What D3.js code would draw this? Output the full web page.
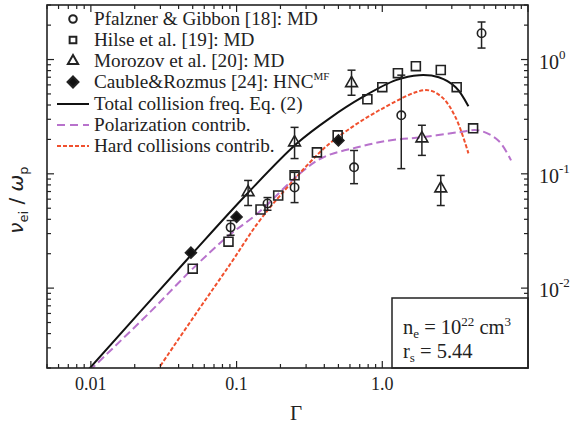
<!DOCTYPE html>
<html><head><meta charset="utf-8">
<script src="https://cdn.jsdelivr.net/npm/d3@7"></script>
<style>body{margin:0;background:#fff}svg{display:block}</style>
</head><body><svg id="c" width="580" height="432" font-family="Tinos, 'Liberation Serif', 'Times New Roman', Times, 'Nimbus Roman', 'Noto Serif', 'DejaVu Serif', serif"></svg>
<script>
// Data (Gamma, nu_ei/omega_p)
const pfalznerG = [0.091, 0.163, 0.25, 0.64, 1.35, 4.8];
const pfalznerV = [0.034, 0.055, 0.076, 0.114, 0.325, 1.7];
const pfalznerLo = [0.029, 0.048, 0.056, 0.082, 0.111, 1.26];
const pfalznerHi = [0.039, 0.062, 0.103, 0.160, 0.73, 2.13];

const hilseG = [0.05, 0.088, 0.146, 0.193, 0.25, 0.356, 0.494, 0.79, 1.0, 1.28, 1.70, 2.52, 3.24, 4.2];
const hilseV = [0.0148, 0.0255, 0.0487, 0.0646, 0.097, 0.154, 0.217, 0.449, 0.573, 0.76, 0.875, 0.81, 0.573, 0.25];

const morozovG = [0.12, 0.25, 0.615, 1.87, 2.52];
const morozovV = [0.069, 0.188, 0.62, 0.204, 0.0745];
const morozovLo = [0.0528, 0.136, 0.487, 0.145, 0.0528];
const morozovHi = [0.0875, 0.255, 0.807, 0.266, 0.0968];

const caubleG = [0.0486, 0.1, 0.5];
const caubleV = [0.0204, 0.042, 0.196];

const totalG = [0.0095, 0.0486, 0.119, 0.26, 0.435, 0.73, 1.24, 1.79, 2.44, 3.19, 3.9];
const totalV = [0.0019, 0.0194, 0.0676, 0.185, 0.306, 0.468, 0.66, 0.73, 0.70, 0.573, 0.39];

const polarG = [0.0098, 0.0248, 0.05, 0.0883, 0.139, 0.272, 0.391, 0.665, 1.12, 1.87, 3.34, 4.57, 6.25, 7.65];
const polarV = [0.0019, 0.00596, 0.0148, 0.0288, 0.0449, 0.1007, 0.139, 0.17, 0.196, 0.209, 0.231, 0.24, 0.196, 0.131];

const hardG = [0.0285, 0.0543, 0.091, 0.139, 0.199, 0.372, 0.494, 0.955, 1.99, 2.56, 3.19, 3.9];
const hardV = [0.0019, 0.00634, 0.0164, 0.0367, 0.0646, 0.154, 0.209, 0.36, 0.54, 0.47, 0.31, 0.151];

const xTicks = [0.01, 0.1, 1.0];
const xTickLabels = ["0.01", "0.1", "1.0"];
const yTicks = [1, 0.1, 0.01];
const yTickExp = ["0", "-1", "-2"];

const legendLabels = ["Pfalzner & Gibbon [18]: MD", "Hilse et al. [19]: MD", "Morozov et al. [20]: MD", "Cauble&Rozmus [24]: HNC", "Total collision freq. Eq. (2)", "Polarization contrib.", "Hard collisions contrib."];

// Layout
const L = 47, R = 528, T = 5, B = 368;
const svg = d3.select("#c");
const x = d3.scaleLog().domain([0.005, 10]).range([L, R]);
const y = d3.scaleLog().domain([0.002, 3]).range([B, T]);

const purple = "#b872cc", red = "#f0502e", ink = "#222";

svg.append("clipPath").attr("id", "clip").append("rect").attr("x", L).attr("y", T).attr("width", R - L).attr("height", B - T);
const plot = svg.append("g").attr("clip-path", "url(#clip)");

const line = d3.line().x(d => x(d[0])).y(d => y(d[1])).curve(d3.curveCatmullRom);
const zip = (a, b) => a.map((v, i) => [v, b[i]]);

plot.append("path").datum(zip(polarG, polarV)).attr("d", line).attr("fill", "none")
  .attr("stroke", purple).attr("stroke-width", 2).attr("stroke-dasharray", "8,4");
plot.append("path").datum(zip(hardG, hardV)).attr("d", line).attr("fill", "none")
  .attr("stroke", red).attr("stroke-width", 2).attr("stroke-dasharray", "4,2");
plot.append("path").datum(zip(totalG, totalV)).attr("d", line).attr("fill", "none")
  .attr("stroke", "#111").attr("stroke-width", 2);

// error bars
function errbars(G, lo, hi) {
  G.forEach((g, i) => {
    const gx = x(g);
    plot.append("line").attr("x1", gx).attr("x2", gx).attr("y1", y(lo[i])).attr("y2", y(hi[i])).attr("stroke", ink).attr("stroke-width", 1.5);
    [lo[i], hi[i]].forEach(v => plot.append("line").attr("x1", gx - 4).attr("x2", gx + 4).attr("y1", y(v)).attr("y2", y(v)).attr("stroke", ink).attr("stroke-width", 1.5));
  });
}
errbars(pfalznerG, pfalznerLo, pfalznerHi);
errbars(morozovG, morozovLo, morozovHi);

const symType = { circle: d3.symbolCircle, square: d3.symbolSquare, triangle: d3.symbolTriangle, diamond: d3.symbolSquare };
const symSize = { circle: 55, square: 80, triangle: 60, diamond: 60 };
function markers(g, G, V, s, filled) {
  g.selectAll(null).data(zip(G, V)).enter().append("path")
    .attr("transform", d => `translate(${x(d[0])},${y(d[1])})` + (s === "diamond" ? " rotate(45)" : ""))
    .attr("d", d3.symbol().type(symType[s]).size(symSize[s])).attr("fill", filled ? "#111" : "none")
    .attr("stroke", ink).attr("stroke-width", 1.6);
}
markers(plot, hilseG, hilseV, "square", false);
markers(plot, pfalznerG, pfalznerV, "circle", false);
markers(plot, morozovG, morozovV, "triangle", false);
markers(plot, caubleG, caubleV, "diamond", true);

// ticks
const ax = svg.append("g").attr("stroke", ink).attr("stroke-width", 1.2);
const isMajor = t => Math.abs(Math.log10(t) - Math.round(Math.log10(t))) < 1e-6;
x.ticks().forEach(t => {
  const len = isMajor(t) ? 7 : 4;
  ax.append("line").attr("x1", x(t)).attr("x2", x(t)).attr("y1", B).attr("y2", B - len);
  ax.append("line").attr("x1", x(t)).attr("x2", x(t)).attr("y1", T).attr("y2", T + len);
});
y.ticks().forEach(t => {
  const len = isMajor(t) ? 7 : 4;
  ax.append("line").attr("y1", y(t)).attr("y2", y(t)).attr("x1", L).attr("x2", L + len);
  ax.append("line").attr("y1", y(t)).attr("y2", y(t)).attr("x1", R).attr("x2", R - len);
});

// inset box
svg.append("rect").attr("x", 392).attr("y", 298).attr("width", R - 392).attr("height", B - 298)
  .attr("fill", "#fff").attr("stroke", ink).attr("stroke-width", 1.5);
const t1 = svg.append("text").attr("x", 403).attr("y", 334).attr("font-size", 20.5).attr("fill", ink);
t1.append("tspan").text("n");
t1.append("tspan").attr("font-size", 13).attr("dy", 4).text("e");
t1.append("tspan").attr("dy", -4).text(" = 10");
t1.append("tspan").attr("font-size", 13).attr("dy", -8).text("22");
t1.append("tspan").attr("dy", 8).text(" cm");
t1.append("tspan").attr("font-size", 13).attr("dy", -8).text("3");
const t2 = svg.append("text").attr("x", 403).attr("y", 358).attr("font-size", 20.5).attr("fill", ink);
t2.append("tspan").text("r");
t2.append("tspan").attr("font-size", 13).attr("dy", 4).text("s");
t2.append("tspan").attr("dy", -4).text(" = 5.44");

// frame
svg.append("rect").attr("x", L).attr("y", T).attr("width", R - L).attr("height", B - T)
  .attr("fill", "none").attr("stroke", ink).attr("stroke-width", 1.6);

// x tick labels
xTicks.forEach((t, i) => svg.append("text").attr("x", x(t)).attr("y", 390).attr("text-anchor", "middle").attr("font-size", 18).attr("fill", ink).text(xTickLabels[i]));
svg.append("text").attr("x", 296).attr("y", 420).attr("text-anchor", "middle").attr("font-size", 21).attr("fill", ink).text("Γ");

// y tick labels (right)
yTicks.forEach((t, i) => {
  const tx = svg.append("text").attr("x", 539).attr("y", y(t) + 9).attr("font-size", 20).attr("fill", ink);
  tx.append("tspan").text("10");
  tx.append("tspan").attr("font-size", 13).attr("dy", -10).text(yTickExp[i]);
});

// y label
const yl = svg.append("text").attr("transform", "translate(23,200) rotate(-90)").attr("text-anchor", "middle").attr("font-size", 20).attr("fill", ink).attr("font-family", "'DejaVu Sans', sans-serif");
yl.append("tspan").attr("font-style", "italic").text("ν");
yl.append("tspan").attr("font-size", 13).attr("dy", 5).text("ei");
yl.append("tspan").attr("dy", -5).text(" / ");
yl.append("tspan").attr("font-style", "italic").text("ω");
yl.append("tspan").attr("font-size", 13).attr("dy", 5).text("p");

// legend
const lg = svg.append("g");
const rows = [19, 40, 61, 82, 104, 125, 146];
["circle", "square", "triangle", "diamond"].forEach((s, i) => {
  lg.append("path").attr("transform", `translate(73,${rows[i]})` + (s === "diamond" ? " rotate(45)" : ""))
    .attr("d", d3.symbol().type(symType[s]).size(s === "diamond" ? 60 : 45))
    .attr("fill", s === "diamond" ? "#111" : "none").attr("stroke", ink).attr("stroke-width", 2);
});
lg.append("line").attr("x1", 57).attr("x2", 89).attr("y1", rows[4]).attr("y2", rows[4]).attr("stroke", "#111").attr("stroke-width", 2);
lg.append("line").attr("x1", 57).attr("x2", 89).attr("y1", rows[5]).attr("y2", rows[5]).attr("stroke", purple).attr("stroke-width", 2).attr("stroke-dasharray", "8,5");
lg.append("line").attr("x1", 57).attr("x2", 89).attr("y1", rows[6]).attr("y2", rows[6]).attr("stroke", red).attr("stroke-width", 2).attr("stroke-dasharray", "4,2");
legendLabels.forEach((l, i) => {
  const tx = lg.append("text").attr("x", 94).attr("y", rows[i] + 6).attr("font-size", 19.2).attr("fill", ink).text(l);
  if (i === 3) tx.append("tspan").attr("font-size", 11).attr("dy", -8).text("MF");
});
</script></body></html>
